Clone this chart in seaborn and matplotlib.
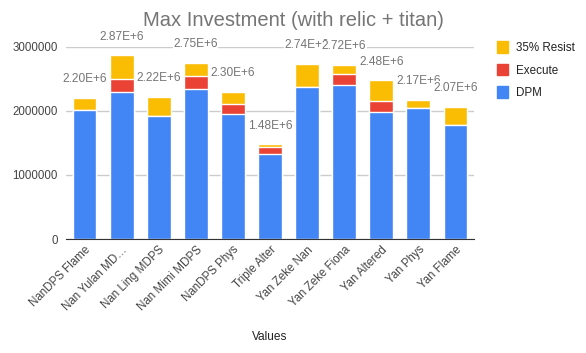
import seaborn as sns
import matplotlib.pyplot as plt
import pandas as pd
from matplotlib.patches import Patch

# datos
builds = ["NanDPS Flame", "Nan Yulan MD…", "Nan Ling MDPS", "Nan Mimi MDPS",
          "NanDPS Phys", "Triple Alter", "Yan Zeke Nan", "Yan Zeke Fiona",
          "Yan Altered", "Yan Phys", "Yan Flame"]
dpm = [2020000, 2300000, 1920000, 2350000, 1960000, 1330000,
       2370000, 2400000, 1990000, 2050000, 1780000]
execute = [0, 200000, 0, 190000, 150000, 100000,
           0, 180000, 170000, 0, 0]
totals = [2200000, 2870000, 2220000, 2750000, 2300000, 1480000,
          2740000, 2720000, 2480000, 2170000, 2070000]
total_labels = ["2.20E+6", "2.87E+6", "2.22E+6", "2.75E+6", "2.30E+6", "1.48E+6",
                "2.74E+6", "2.72E+6", "2.48E+6", "2.17E+6", "2.07E+6"]

c_dpm = "#4285F4"
c_exec = "#EA4335"
c_res = "#FBBC04"

df = pd.DataFrame({"build": builds, "dpm": dpm, "execute": execute, "total": totals})
df["dpm_exec"] = df["dpm"] + df["execute"]

sns.set_style("white")
plt.rcParams['font.family'] = ['Liberation Sans', 'DejaVu Sans']

fig = plt.figure(figsize=(5.86, 3.53), dpi=100)
ax = fig.add_axes([66 / 586, 1 - 239 / 353, 408 / 586, 192 / 353])

# barras apiladas: total -> dpm+execute -> dpm
sns.barplot(data=df, x="build", y="total", color=c_res, width=0.64,
            saturation=1, ax=ax, order=builds, zorder=2)
sns.barplot(data=df, x="build", y="dpm_exec", color=c_exec, width=0.64,
            saturation=1, ax=ax, order=builds, zorder=2)
sns.barplot(data=df, x="build", y="dpm", color=c_dpm, width=0.64,
            saturation=1, ax=ax, order=builds, zorder=2)

ax.set_ylim(0, 3000000)
ax.set_xlim(-0.5, len(builds) - 0.5)
ax.set_yticks([0, 1000000, 2000000, 3000000])
ax.set_yticklabels(["0", "1000000", "2000000", "3000000"])
ax.yaxis.grid(True, color="#cccccc", linewidth=1, zorder=0)
ax.set_axisbelow(True)
for s in ["top", "right", "left"]:
    ax.spines[s].set_visible(False)
ax.spines["bottom"].set_color("#333333")
ax.spines["bottom"].set_zorder(3)
ax.tick_params(axis="both", length=0, labelsize=8.3, colors="#444444")
ax.tick_params(axis="y", pad=6)
ax.set_xlabel("")
ax.set_ylabel("")
plt.setp(ax.get_xticklabels(), rotation=45, ha="right", rotation_mode="anchor")

for i, (t, lab) in enumerate(zip(totals, total_labels)):
    ax.annotate(lab, xy=(i, t), xytext=(0, 13.5), textcoords="offset points",
                ha="center", va="center", fontsize=8.6, color="#757575",
                annotation_clip=False, zorder=5,
                bbox=dict(facecolor="white", edgecolor="none", pad=0.3))

handles = [Patch(color=c_res, label="35% Resist"),
           Patch(color=c_exec, label="Execute"),
           Patch(color=c_dpm, label="DPM")]
fig.legend(handles=handles, loc="upper left", bbox_to_anchor=(486 / 586, 1 - 31 / 353),
           frameon=False, fontsize=8.4, handlelength=1.0, handleheight=1.1,
           handletextpad=0.7, labelspacing=0.85, labelcolor="#222222")

fig.text(293 / 586, 1 - 20 / 353, "Max Investment (with relic + titan)",
         ha="center", va="center", fontsize=14.5, color="#757575")
fig.text(270 / 586, 1 - 337 / 353, "Values", ha="center", va="center",
         fontsize=8.6, color="#222222")

fig.savefig("out.png", dpi=100)
